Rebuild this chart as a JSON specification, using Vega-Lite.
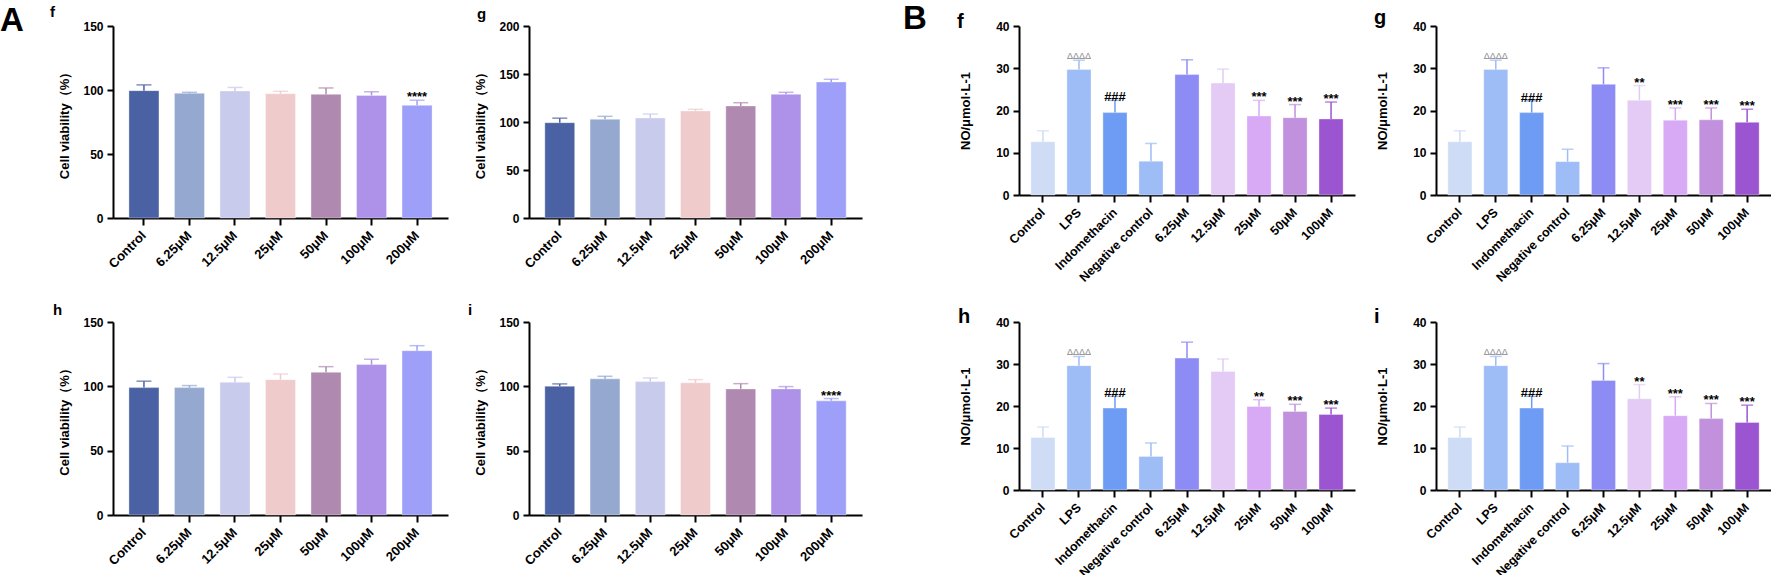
{
"$schema": "https://vega.github.io/schema/vega-lite/v6.json",
"background": "white",
"padding": {"left": 0, "top": 3, "right": 0, "bottom": 0},
"datasets": {
"Af": [
{"group":"Control","mean":99.5,"upper":104,"sig":""},
{"group":"6.25μM","mean":97.4,"upper":98.2,"sig":""},
{"group":"12.5μM","mean":99.2,"upper":102,"sig":""},
{"group":"25μM","mean":97.1,"upper":99,"sig":""},
{"group":"50μM","mean":96.6,"upper":101.6,"sig":""},
{"group":"100μM","mean":95.8,"upper":98.7,"sig":""},
{"group":"200μM","mean":88,"upper":92,"sig":"****"}
],
"Ag": [
{"group":"Control","mean":99.3,"upper":104,"sig":""},
{"group":"6.25μM","mean":102.8,"upper":105.9,"sig":""},
{"group":"12.5μM","mean":104.2,"upper":108.3,"sig":""},
{"group":"25μM","mean":111.5,"upper":113.2,"sig":""},
{"group":"50μM","mean":116.7,"upper":120.1,"sig":""},
{"group":"100μM","mean":128.8,"upper":130.9,"sig":""},
{"group":"200μM","mean":141.7,"upper":144.5,"sig":""}
],
"Ah": [
{"group":"Control","mean":99,"upper":104,"sig":""},
{"group":"6.25μM","mean":99,"upper":100.6,"sig":""},
{"group":"12.5μM","mean":103.2,"upper":107,"sig":""},
{"group":"25μM","mean":105.2,"upper":109.6,"sig":""},
{"group":"50μM","mean":110.9,"upper":115.3,"sig":""},
{"group":"100μM","mean":116.9,"upper":121,"sig":""},
{"group":"200μM","mean":127.7,"upper":131.6,"sig":""}
],
"Ai": [
{"group":"Control","mean":100.1,"upper":101.9,"sig":""},
{"group":"6.25μM","mean":105.8,"upper":107.8,"sig":""},
{"group":"12.5μM","mean":103.7,"upper":106.5,"sig":""},
{"group":"25μM","mean":102.7,"upper":105.2,"sig":""},
{"group":"50μM","mean":98,"upper":102.1,"sig":""},
{"group":"100μM","mean":98,"upper":99.8,"sig":""},
{"group":"200μM","mean":88.7,"upper":90.5,"sig":"****"}
],
"Bf": [
{"group":"Control","mean":12.6,"upper":15.2,"sig":""},
{"group":"LPS","mean":29.7,"upper":31.9,"sig":"ΔΔΔΔ"},
{"group":"Indomethacin","mean":19.5,"upper":22.4,"sig":"###"},
{"group":"Negative control","mean":8.0,"upper":12.2,"sig":""},
{"group":"6.25μM","mean":28.5,"upper":32.0,"sig":""},
{"group":"12.5μM","mean":26.5,"upper":29.8,"sig":""},
{"group":"25μM","mean":18.7,"upper":22.4,"sig":"***"},
{"group":"50μM","mean":18.3,"upper":21.4,"sig":"***"},
{"group":"100μM","mean":18.0,"upper":22.0,"sig":"***"}
],
"Bg": [
{"group":"Control","mean":12.6,"upper":15.2,"sig":""},
{"group":"LPS","mean":29.7,"upper":31.9,"sig":"ΔΔΔΔ"},
{"group":"Indomethacin","mean":19.5,"upper":22.3,"sig":"###"},
{"group":"Negative control","mean":7.9,"upper":10.8,"sig":""},
{"group":"6.25μM","mean":26.2,"upper":30.1,"sig":""},
{"group":"12.5μM","mean":22.4,"upper":25.9,"sig":"**"},
{"group":"25μM","mean":17.7,"upper":20.6,"sig":"***"},
{"group":"50μM","mean":17.8,"upper":20.6,"sig":"***"},
{"group":"100μM","mean":17.2,"upper":20.3,"sig":"***"}
],
"Bh": [
{"group":"Control","mean":12.5,"upper":15.0,"sig":""},
{"group":"LPS","mean":29.6,"upper":31.8,"sig":"ΔΔΔΔ"},
{"group":"Indomethacin","mean":19.5,"upper":22.3,"sig":"###"},
{"group":"Negative control","mean":8.0,"upper":11.2,"sig":""},
{"group":"6.25μM","mean":31.4,"upper":35.2,"sig":""},
{"group":"12.5μM","mean":28.2,"upper":31.2,"sig":""},
{"group":"25μM","mean":19.9,"upper":21.5,"sig":"**"},
{"group":"50μM","mean":18.7,"upper":20.4,"sig":"***"},
{"group":"100μM","mean":18.0,"upper":19.5,"sig":"***"}
],
"Bi": [
{"group":"Control","mean":12.5,"upper":15.0,"sig":""},
{"group":"LPS","mean":29.6,"upper":31.8,"sig":"ΔΔΔΔ"},
{"group":"Indomethacin","mean":19.5,"upper":22.3,"sig":"###"},
{"group":"Negative control","mean":6.5,"upper":10.5,"sig":""},
{"group":"6.25μM","mean":26.1,"upper":30.1,"sig":""},
{"group":"12.5μM","mean":21.7,"upper":25.1,"sig":"**"},
{"group":"25μM","mean":17.7,"upper":22.2,"sig":"***"},
{"group":"50μM","mean":17.0,"upper":20.6,"sig":"***"},
{"group":"100μM","mean":16.1,"upper":20.2,"sig":"***"}
]
},
"columns": 6,
"align": "each",
"bounds": "flush",
"spacing": {"row": 104, "column": 81},
"resolve": {"scale": {"color": "independent"}},
"concat": [
{"width": 1, "height": 1, "data": {"values": []}, "mark": "point", "encoding": {}, "title": {"text": "A", "anchor": "start", "frame": "group", "dx": -31, "offset": -12, "fontSize": 33}},
{
"data": {"name": "Af"}, "width": 335, "height": 192,
"title": {"text": "f", "anchor": "start", "frame": "group", "dx": -63, "offset": 0, "fontSize": 15},
"encoding": {"x": {"field": "group", "type": "nominal", "sort": null, "title": null, "scale": {"paddingInner": 0.34, "paddingOuter": 0.35}, "axis": {"labelFontSize": 13}}},
"layer": [
{"mark": {"type": "bar", "stroke": "white", "strokeOpacity": 0.35, "strokeWidth": 1}, "encoding": {"y": {"field": "mean", "type": "quantitative", "title": "Cell viability（%）", "scale": {"domain": [0, 150], "nice": false}, "axis": {"values": [0, 50, 100, 150], "titlePadding": 11}}, "color": {"field": "group", "type": "nominal", "legend": null, "scale": {"domain": ["Control","6.25μM","12.5μM","25μM","50μM","100μM","200μM"], "range": ["#4a62a3","#94a8d0","#c9cbec","#efcbcb","#b089b1","#ae91e8","#9e9ff8"]}}}},
{"mark": {"type": "rule", "strokeWidth": 1.5}, "encoding": {"y": {"field": "mean", "type": "quantitative", "title": "Cell viability（%）"}, "y2": {"field": "upper"}, "color": {"field": "group", "type": "nominal", "legend": null}}},
{"mark": {"type": "tick", "size": 15, "thickness": 1.5}, "encoding": {"y": {"field": "upper", "type": "quantitative", "title": "Cell viability（%）"}, "color": {"field": "group", "type": "nominal", "legend": null}}},
{"transform": [{"filter": "datum.sig != ''"}], "mark": {"type": "text", "fontSize": 13, "fontWeight": "bold", "color": "black", "baseline": "alphabetic", "dy": 1}, "encoding": {"y": {"field": "upper", "type": "quantitative", "title": "Cell viability（%）"}, "text": {"field": "sig"}}}
]
},
{
"data": {"name": "Ag"}, "width": 327, "height": 192,
"title": {"text": "g", "anchor": "start", "frame": "group", "dx": -52, "offset": -2, "fontSize": 15},
"encoding": {"x": {"field": "group", "type": "nominal", "sort": null, "title": null, "scale": {"range": [0, 333], "paddingInner": 0.34, "paddingOuter": 0.35}, "axis": {"labelFontSize": 13}}},
"layer": [
{"mark": {"type": "bar", "stroke": "white", "strokeOpacity": 0.35, "strokeWidth": 1}, "encoding": {"y": {"field": "mean", "type": "quantitative", "title": "Cell viability（%）", "scale": {"domain": [0, 200], "nice": false}, "axis": {"values": [0, 50, 100, 150, 200], "titlePadding": 11}}, "color": {"field": "group", "type": "nominal", "legend": null, "scale": {"domain": ["Control","6.25μM","12.5μM","25μM","50μM","100μM","200μM"], "range": ["#4a62a3","#94a8d0","#c9cbec","#efcbcb","#b089b1","#ae91e8","#9e9ff8"]}}}},
{"mark": {"type": "rule", "strokeWidth": 1.5}, "encoding": {"y": {"field": "mean", "type": "quantitative", "title": "Cell viability（%）"}, "y2": {"field": "upper"}, "color": {"field": "group", "type": "nominal", "legend": null}}},
{"mark": {"type": "tick", "size": 15, "thickness": 1.5}, "encoding": {"y": {"field": "upper", "type": "quantitative", "title": "Cell viability（%）"}, "color": {"field": "group", "type": "nominal", "legend": null}}}
]
},
{"width": 1, "height": 1, "data": {"values": []}, "mark": "point", "encoding": {}, "title": {"text": "B", "anchor": "start", "frame": "group", "dx": -34, "offset": -10, "fontSize": 33}},
{
"data": {"name": "Bf"}, "width": 336, "height": 169,
"title": {"text": "f", "anchor": "start", "frame": "group", "dx": -62, "offset": -12, "fontSize": 20},
"encoding": {"x": {"field": "group", "type": "nominal", "sort": null, "title": null, "scale": {"paddingInner": 0.33, "paddingOuter": 0.33}, "axis": {"labelFontSize": 12.5}}},
"layer": [
{"mark": {"type": "bar", "stroke": "white", "strokeOpacity": 0.35, "strokeWidth": 1}, "encoding": {"y": {"field": "mean", "type": "quantitative", "title": "NO/μmol·L-1", "scale": {"domain": [0, 40], "nice": false}, "axis": {"values": [0, 10, 20, 30, 40], "titlePadding": 23}}, "color": {"field": "group", "type": "nominal", "legend": null, "scale": {"domain": ["Control","LPS","Indomethacin","Negative control","6.25μM","12.5μM","25μM","50μM","100μM"], "range": ["#cedcf6","#9ebcf6","#6e9cf4","#9ebcf6","#8c8cf4","#e3cbf5","#d8a9f4","#c191dd","#9c55d0"]}}}},
{"mark": {"type": "rule", "strokeWidth": 1.5}, "encoding": {"y": {"field": "mean", "type": "quantitative", "title": "NO/μmol·L-1"}, "y2": {"field": "upper"}, "color": {"field": "group", "type": "nominal", "legend": null}}},
{"mark": {"type": "tick", "size": 12, "thickness": 1.5}, "encoding": {"y": {"field": "upper", "type": "quantitative", "title": "NO/μmol·L-1"}, "color": {"field": "group", "type": "nominal", "legend": null}}},
{"transform": [{"filter": "datum.sig != '' && datum.sig != 'ΔΔΔΔ'"}], "mark": {"type": "text", "fontSize": 13, "fontWeight": "bold", "color": "black", "baseline": "alphabetic", "dy": 1}, "encoding": {"y": {"field": "upper", "type": "quantitative", "title": "NO/μmol·L-1"}, "text": {"field": "sig"}}},
{"transform": [{"filter": "datum.sig == 'ΔΔΔΔ'"}], "mark": {"type": "text", "fontSize": 9, "color": "#8a8a8a", "baseline": "alphabetic", "dy": -1}, "encoding": {"y": {"field": "upper", "type": "quantitative", "title": "NO/μmol·L-1"}, "text": {"field": "sig"}}}
]
},
{
"data": {"name": "Bg"}, "width": 335, "height": 169,
"title": {"text": "g", "anchor": "start", "frame": "group", "dx": -62, "offset": -8, "fontSize": 20},
"encoding": {"x": {"field": "group", "type": "nominal", "sort": null, "title": null, "scale": {"paddingInner": 0.33, "paddingOuter": 0.33}, "axis": {"labelFontSize": 12.5}}},
"layer": [
{"mark": {"type": "bar", "stroke": "white", "strokeOpacity": 0.35, "strokeWidth": 1}, "encoding": {"y": {"field": "mean", "type": "quantitative", "title": "NO/μmol·L-1", "scale": {"domain": [0, 40], "nice": false}, "axis": {"values": [0, 10, 20, 30, 40], "titlePadding": 23}}, "color": {"field": "group", "type": "nominal", "legend": null, "scale": {"domain": ["Control","LPS","Indomethacin","Negative control","6.25μM","12.5μM","25μM","50μM","100μM"], "range": ["#cedcf6","#9ebcf6","#6e9cf4","#9ebcf6","#8c8cf4","#e3cbf5","#d8a9f4","#c191dd","#9c55d0"]}}}},
{"mark": {"type": "rule", "strokeWidth": 1.5}, "encoding": {"y": {"field": "mean", "type": "quantitative", "title": "NO/μmol·L-1"}, "y2": {"field": "upper"}, "color": {"field": "group", "type": "nominal", "legend": null}}},
{"mark": {"type": "tick", "size": 12, "thickness": 1.5}, "encoding": {"y": {"field": "upper", "type": "quantitative", "title": "NO/μmol·L-1"}, "color": {"field": "group", "type": "nominal", "legend": null}}},
{"transform": [{"filter": "datum.sig != '' && datum.sig != 'ΔΔΔΔ'"}], "mark": {"type": "text", "fontSize": 13, "fontWeight": "bold", "color": "black", "baseline": "alphabetic", "dy": 1}, "encoding": {"y": {"field": "upper", "type": "quantitative", "title": "NO/μmol·L-1"}, "text": {"field": "sig"}}},
{"transform": [{"filter": "datum.sig == 'ΔΔΔΔ'"}], "mark": {"type": "text", "fontSize": 9, "color": "#8a8a8a", "baseline": "alphabetic", "dy": -1}, "encoding": {"y": {"field": "upper", "type": "quantitative", "title": "NO/μmol·L-1"}, "text": {"field": "sig"}}}
]
},
{"width": 1, "height": 1, "data": {"values": []}, "mark": "point", "encoding": {}},
{
"data": {"name": "Ah"}, "width": 335, "height": 193,
"title": {"text": "h", "anchor": "start", "frame": "group", "dx": -60, "offset": -2, "fontSize": 15},
"encoding": {"x": {"field": "group", "type": "nominal", "sort": null, "title": null, "scale": {"paddingInner": 0.34, "paddingOuter": 0.35}, "axis": {"labelFontSize": 13}}},
"layer": [
{"mark": {"type": "bar", "stroke": "white", "strokeOpacity": 0.35, "strokeWidth": 1}, "encoding": {"y": {"field": "mean", "type": "quantitative", "title": "Cell viability（%）", "scale": {"domain": [0, 150], "nice": false}, "axis": {"values": [0, 50, 100, 150], "titlePadding": 11}}, "color": {"field": "group", "type": "nominal", "legend": null, "scale": {"domain": ["Control","6.25μM","12.5μM","25μM","50μM","100μM","200μM"], "range": ["#4a62a3","#94a8d0","#c9cbec","#efcbcb","#b089b1","#ae91e8","#9e9ff8"]}}}},
{"mark": {"type": "rule", "strokeWidth": 1.5}, "encoding": {"y": {"field": "mean", "type": "quantitative", "title": "Cell viability（%）"}, "y2": {"field": "upper"}, "color": {"field": "group", "type": "nominal", "legend": null}}},
{"mark": {"type": "tick", "size": 15, "thickness": 1.5}, "encoding": {"y": {"field": "upper", "type": "quantitative", "title": "Cell viability（%）"}, "color": {"field": "group", "type": "nominal", "legend": null}}}
]
},
{
"data": {"name": "Ai"}, "width": 327, "height": 193,
"title": {"text": "i", "anchor": "start", "frame": "group", "dx": -61, "offset": -2, "fontSize": 15},
"encoding": {"x": {"field": "group", "type": "nominal", "sort": null, "title": null, "scale": {"range": [0, 333], "paddingInner": 0.34, "paddingOuter": 0.35}, "axis": {"labelFontSize": 13}}},
"layer": [
{"mark": {"type": "bar", "stroke": "white", "strokeOpacity": 0.35, "strokeWidth": 1}, "encoding": {"y": {"field": "mean", "type": "quantitative", "title": "Cell viability（%）", "scale": {"domain": [0, 150], "nice": false}, "axis": {"values": [0, 50, 100, 150], "titlePadding": 11}}, "color": {"field": "group", "type": "nominal", "legend": null, "scale": {"domain": ["Control","6.25μM","12.5μM","25μM","50μM","100μM","200μM"], "range": ["#4a62a3","#94a8d0","#c9cbec","#efcbcb","#b089b1","#ae91e8","#9e9ff8"]}}}},
{"mark": {"type": "rule", "strokeWidth": 1.5}, "encoding": {"y": {"field": "mean", "type": "quantitative", "title": "Cell viability（%）"}, "y2": {"field": "upper"}, "color": {"field": "group", "type": "nominal", "legend": null}}},
{"mark": {"type": "tick", "size": 15, "thickness": 1.5}, "encoding": {"y": {"field": "upper", "type": "quantitative", "title": "Cell viability（%）"}, "color": {"field": "group", "type": "nominal", "legend": null}}},
{"transform": [{"filter": "datum.sig != ''"}], "mark": {"type": "text", "fontSize": 13, "fontWeight": "bold", "color": "black", "baseline": "alphabetic", "dy": 1}, "encoding": {"y": {"field": "upper", "type": "quantitative", "title": "Cell viability（%）"}, "text": {"field": "sig"}}}
]
},
{"width": 1, "height": 1, "data": {"values": []}, "mark": "point", "encoding": {}},
{
"data": {"name": "Bh"}, "width": 336, "height": 168,
"title": {"text": "h", "anchor": "start", "frame": "group", "dx": -61, "offset": -11, "fontSize": 20},
"encoding": {"x": {"field": "group", "type": "nominal", "sort": null, "title": null, "scale": {"paddingInner": 0.33, "paddingOuter": 0.33}, "axis": {"labelFontSize": 12.5}}},
"layer": [
{"mark": {"type": "bar", "stroke": "white", "strokeOpacity": 0.35, "strokeWidth": 1}, "encoding": {"y": {"field": "mean", "type": "quantitative", "title": "NO/μmol·L-1", "scale": {"domain": [0, 40], "nice": false}, "axis": {"values": [0, 10, 20, 30, 40], "titlePadding": 23}}, "color": {"field": "group", "type": "nominal", "legend": null, "scale": {"domain": ["Control","LPS","Indomethacin","Negative control","6.25μM","12.5μM","25μM","50μM","100μM"], "range": ["#cedcf6","#9ebcf6","#6e9cf4","#9ebcf6","#8c8cf4","#e3cbf5","#d8a9f4","#c191dd","#9c55d0"]}}}},
{"mark": {"type": "rule", "strokeWidth": 1.5}, "encoding": {"y": {"field": "mean", "type": "quantitative", "title": "NO/μmol·L-1"}, "y2": {"field": "upper"}, "color": {"field": "group", "type": "nominal", "legend": null}}},
{"mark": {"type": "tick", "size": 12, "thickness": 1.5}, "encoding": {"y": {"field": "upper", "type": "quantitative", "title": "NO/μmol·L-1"}, "color": {"field": "group", "type": "nominal", "legend": null}}},
{"transform": [{"filter": "datum.sig != '' && datum.sig != 'ΔΔΔΔ'"}], "mark": {"type": "text", "fontSize": 13, "fontWeight": "bold", "color": "black", "baseline": "alphabetic", "dy": 1}, "encoding": {"y": {"field": "upper", "type": "quantitative", "title": "NO/μmol·L-1"}, "text": {"field": "sig"}}},
{"transform": [{"filter": "datum.sig == 'ΔΔΔΔ'"}], "mark": {"type": "text", "fontSize": 9, "color": "#8a8a8a", "baseline": "alphabetic", "dy": -1}, "encoding": {"y": {"field": "upper", "type": "quantitative", "title": "NO/μmol·L-1"}, "text": {"field": "sig"}}}
]
},
{
"data": {"name": "Bi"}, "width": 335, "height": 168,
"title": {"text": "i", "anchor": "start", "frame": "group", "dx": -62, "offset": -11, "fontSize": 20},
"encoding": {"x": {"field": "group", "type": "nominal", "sort": null, "title": null, "scale": {"paddingInner": 0.33, "paddingOuter": 0.33}, "axis": {"labelFontSize": 12.5}}},
"layer": [
{"mark": {"type": "bar", "stroke": "white", "strokeOpacity": 0.35, "strokeWidth": 1}, "encoding": {"y": {"field": "mean", "type": "quantitative", "title": "NO/μmol·L-1", "scale": {"domain": [0, 40], "nice": false}, "axis": {"values": [0, 10, 20, 30, 40], "titlePadding": 23}}, "color": {"field": "group", "type": "nominal", "legend": null, "scale": {"domain": ["Control","LPS","Indomethacin","Negative control","6.25μM","12.5μM","25μM","50μM","100μM"], "range": ["#cedcf6","#9ebcf6","#6e9cf4","#9ebcf6","#8c8cf4","#e3cbf5","#d8a9f4","#c191dd","#9c55d0"]}}}},
{"mark": {"type": "rule", "strokeWidth": 1.5}, "encoding": {"y": {"field": "mean", "type": "quantitative", "title": "NO/μmol·L-1"}, "y2": {"field": "upper"}, "color": {"field": "group", "type": "nominal", "legend": null}}},
{"mark": {"type": "tick", "size": 12, "thickness": 1.5}, "encoding": {"y": {"field": "upper", "type": "quantitative", "title": "NO/μmol·L-1"}, "color": {"field": "group", "type": "nominal", "legend": null}}},
{"transform": [{"filter": "datum.sig != '' && datum.sig != 'ΔΔΔΔ'"}], "mark": {"type": "text", "fontSize": 13, "fontWeight": "bold", "color": "black", "baseline": "alphabetic", "dy": 1}, "encoding": {"y": {"field": "upper", "type": "quantitative", "title": "NO/μmol·L-1"}, "text": {"field": "sig"}}},
{"transform": [{"filter": "datum.sig == 'ΔΔΔΔ'"}], "mark": {"type": "text", "fontSize": 9, "color": "#8a8a8a", "baseline": "alphabetic", "dy": -1}, "encoding": {"y": {"field": "upper", "type": "quantitative", "title": "NO/μmol·L-1"}, "text": {"field": "sig"}}}
]
}
],
"config": {
"view": {"stroke": null},
"font": "Liberation Sans",
"title": {"font": "Liberation Sans", "fontWeight": "bold", "color": "black", "baseline": "alphabetic"},
"axis": {"domainColor": "black", "domainWidth": 2, "tickColor": "black", "tickWidth": 2, "tickSize": 6, "labelFont": "Liberation Sans", "labelFontWeight": "bold", "labelColor": "black", "labelFontSize": 12, "labelPadding": 4, "titleFont": "Liberation Sans", "titleFontWeight": "bold", "titleColor": "black", "titleFontSize": 13, "grid": false},
"axisX": {"labelAngle": -45, "labelAlign": "right", "labelBaseline": "middle", "tickSize": 7, "labelPadding": 8},
"text": {"font": "Liberation Sans"}
}
}
